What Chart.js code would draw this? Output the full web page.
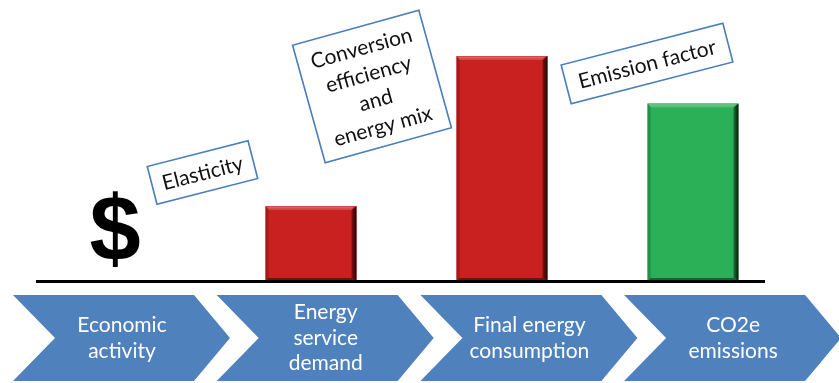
<!DOCTYPE html>
<html>
<head>
<meta charset="utf-8">
<script src="https://cdn.jsdelivr.net/npm/chart.js@4"></script>
<style>
  html, body { margin: 0; padding: 0; background: #ffffff; }
  #wrap { width: 839px; height: 383px; }
</style>
</head>
<body>
<div id="wrap"><canvas id="chart" width="839" height="383"></canvas></div>
<script>
// Stages of the emissions chain and the relative size drawn for each
const stages = [["Economic", "activity"], ["Energy", "service", "demand"], ["Final energy", "consumption"], ["CO2e", "emissions"]];
const stageValues = [null, 30, 90, 71];
const stageColors = ["#c9211f", "#c9211f", "#c9211f", "#2bb058"];
const stageGlyphs = ["$", "", "", ""];
// Drivers linking one stage to the next
const driverLabels = [["Elasticity"], ["Conversion", "efficiency", "and", "energy mix"], ["Emission factor"]];

const FONT = "Lato, 'Open Sans', sans-serif";

// Box geometry for each driver callout: centre, size, tilt (degrees)
const calloutBoxes = [
  { cx: 202.5, cy: 172.5, w: 104, h: 39, angle: 14.4, lineGap: 24 },
  { cx: 372, cy: 86.5, w: 131, h: 122, angle: 15.5, lineGap: 27 },
  { cx: 647, cy: 63.5, w: 167, h: 40, angle: 14.5, lineGap: 24 }
];

function shade(hex, amt) {
  const n = parseInt(hex.slice(1), 16);
  let r = (n >> 16) & 255, g = (n >> 8) & 255, b = n & 255;
  const f = c => Math.max(0, Math.min(255, Math.round(amt >= 0 ? c + (255 - c) * amt : c * (1 + amt))));
  return `rgb(${f(r)},${f(g)},${f(b)})`;
}

const flowPlugin = {
  id: 'flow',
  afterDatasetsDraw(chart) {
    const ctx = chart.ctx;
    const meta = chart.getDatasetMeta(0);
    const yScale = chart.scales.y;
    const xScale = chart.scales.x;
    const base = yScale.getPixelForValue(0);

    // bevelled edges on each bar
    meta.data.forEach((bar, i) => {
      if (stageValues[i] == null) return;
      const { x, y, width } = bar.getProps(['x', 'y', 'width'], true);
      const l = x - width / 2, r = x + width / 2, t = y, b = base;
      const col = stageColors[i];
      ctx.save();
      // top highlight
      ctx.fillStyle = shade(col, 0.18);
      ctx.beginPath();
      ctx.moveTo(l, t); ctx.lineTo(r, t); ctx.lineTo(r - 5, t + 4); ctx.lineTo(l + 3, t + 4); ctx.closePath();
      ctx.fill();
      ctx.fillStyle = shade(col, 0.3);
      ctx.fillRect(l + 2, t + 1, width - 6, 1.2);
      // left edge
      ctx.fillStyle = shade(col, -0.18);
      ctx.beginPath();
      ctx.moveTo(l, t); ctx.lineTo(l + 3, t + 4); ctx.lineTo(l + 3, b - 3); ctx.lineTo(l, b); ctx.closePath();
      ctx.fill();
      // right edge shadow
      const g = ctx.createLinearGradient(r - 6, 0, r, 0);
      g.addColorStop(0, shade(col, -0.25));
      g.addColorStop(1, shade(col, -0.85));
      ctx.fillStyle = g;
      ctx.beginPath();
      ctx.moveTo(r, t); ctx.lineTo(r, b); ctx.lineTo(r - 5, b - 3); ctx.lineTo(r - 5, t + 4); ctx.closePath();
      ctx.fill();
      // bottom edge
      ctx.fillStyle = shade(col, -0.45);
      ctx.beginPath();
      ctx.moveTo(l, b); ctx.lineTo(r, b); ctx.lineTo(r - 5, b - 3); ctx.lineTo(l + 3, b - 3); ctx.closePath();
      ctx.fill();
      ctx.restore();
    });

    // glyph markers for stages without a bar
    stageGlyphs.forEach((gl, i) => {
      if (!gl) return;
      ctx.save();
      ctx.fillStyle = "#000";
      ctx.font = "bold 92px 'Liberation Sans', Arial, sans-serif";
      ctx.textAlign = "center";
      ctx.textBaseline = "alphabetic";
      ctx.fillText(gl, xScale.getPixelForValue(i) - 5, base - 21);
      ctx.restore();
    });

    // ground line
    ctx.save();
    ctx.strokeStyle = "#000";
    ctx.lineWidth = 3;
    ctx.beginPath();
    ctx.moveTo(36, base + 0.5);
    ctx.lineTo(765, base + 0.5);
    ctx.stroke();
    ctx.restore();

    // process chevrons with stage names
    const top = 295, bottom = 381, mid = (top + bottom) / 2;
    stages.forEach((lines, i) => {
      const x0 = 13 + i * 203.7;
      ctx.save();
      ctx.fillStyle = "#4f81bd";
      ctx.beginPath();
      ctx.moveTo(x0, top);
      ctx.lineTo(x0 + 181, top);
      ctx.lineTo(x0 + 217, mid);
      ctx.lineTo(x0 + 181, bottom);
      ctx.lineTo(x0, bottom);
      ctx.lineTo(x0 + 42, mid);
      ctx.closePath();
      ctx.fill();
      ctx.fillStyle = "#ffffff";
      ctx.font = "21px " + FONT;
      ctx.textAlign = "center";
      ctx.textBaseline = "middle";
      const gap = 25.5;
      const y0 = mid - (lines.length - 1) * gap / 2;
      lines.forEach((s, k) => ctx.fillText(s, x0 + 109, y0 + k * gap));
      ctx.restore();
    });

    // tilted driver callouts
    driverLabels.forEach((lines, i) => {
      const bx = calloutBoxes[i];
      ctx.save();
      ctx.translate(bx.cx, bx.cy);
      ctx.rotate(-bx.angle * Math.PI / 180);
      ctx.fillStyle = "#ffffff";
      ctx.fillRect(-bx.w / 2, -bx.h / 2, bx.w, bx.h);
      ctx.strokeStyle = "#4a7ebb";
      ctx.lineWidth = 1.6;
      ctx.strokeRect(-bx.w / 2, -bx.h / 2, bx.w, bx.h);
      ctx.fillStyle = "#111111";
      ctx.font = "21px " + FONT;
      ctx.textAlign = "center";
      ctx.textBaseline = "middle";
      const y0 = -(lines.length - 1) * bx.lineGap / 2;
      lines.forEach((s, k) => ctx.fillText(s, 0, y0 + k * bx.lineGap + 1));
      ctx.restore();
    });
  }
};

new Chart(document.getElementById('chart'), {
  type: 'bar',
  data: {
    labels: stages.map(s => s.join(' ')),
    datasets: [{
      data: stageValues,
      backgroundColor: stageColors,
      borderWidth: 0,
      categoryPercentage: 1,
      barPercentage: 0.476
    }]
  },
  options: {
    responsive: false,
    devicePixelRatio: 1,
    animation: false,
    layout: { padding: { left: 24.5, right: 50.5, top: 31, bottom: 102 } },
    plugins: { legend: { display: false }, tooltip: { enabled: false } },
    scales: {
      x: { display: false },
      y: { display: false, min: 0, max: 100 }
    }
  },
  plugins: [flowPlugin]
});
</script>
</body>
</html>
